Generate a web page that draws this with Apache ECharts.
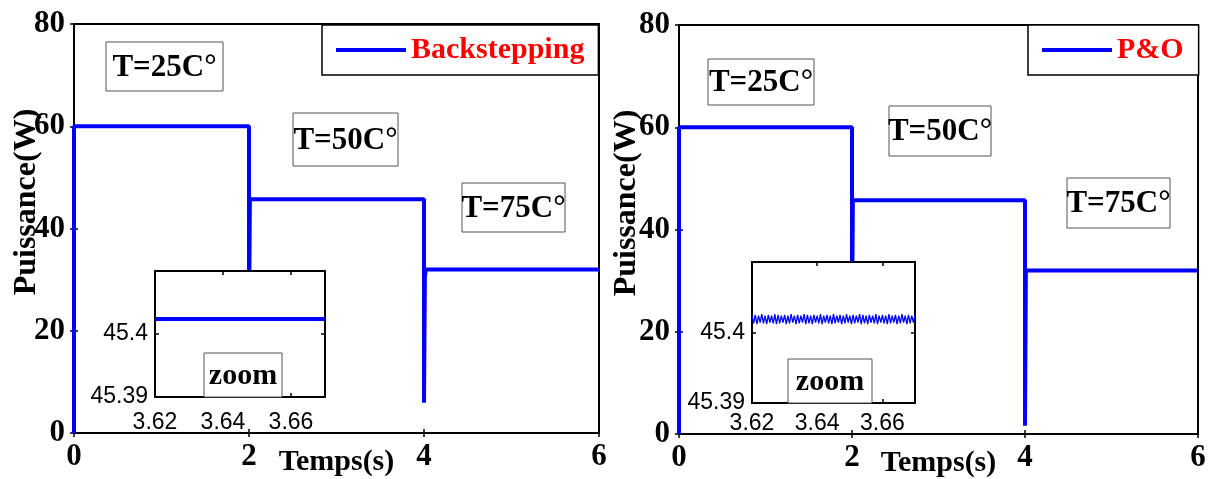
<!DOCTYPE html>
<html>
<head>
<meta charset="utf-8">
<script src="https://cdn.jsdelivr.net/npm/echarts@6/dist/echarts.min.js"></script>
<style>
  html, body { margin: 0; padding: 0; background: #fff; }
  #chart { width: 1217px; height: 479px; }
</style>
</head>
<body>
<div id="chart"></div>
<script>
// Power step response of the PV system under temperature steps (25, 50, 75 °C)
const seriesNames = ['Backstepping', 'P&O'];

// Backstepping controller: time (s) and power (W)
const backTime  = [0, 0,  2,  2,  2.01, 4,    4,   4.01, 4.02, 6];
const backPower = [0, 60, 60, 20, 45.7, 45.7, 5.9, 30.5, 32,   32];

// P&O controller: time (s) and power (W)
const poTime  = [0, 0,  2,  2,  2.01, 4,    4,   4.01, 6];
const poPower = [0, 60, 60, 20, 45.7, 45.7, 1.6, 32,   32];

// Zoom window on the 50 °C plateau
const zoomTimeRange  = [3.62, 3.67];
const zoomPowerRange = [45.39, 45.41];
const backZoomTime  = [3.62, 3.67];
const backZoomPower = [45.4024, 45.4024];
// P&O samples in the zoom window (sampled every 0.5 ms from 3.62 s)
const poZoomStart = 3.62;
const poZoomStep = 0.0005;
const poZoomPower = [
  45.4024, 45.4013, 45.4025, 45.4012, 45.4024, 45.4014, 45.4026, 45.4013, 45.4024, 45.4012,
  45.4025, 45.4014, 45.4024, 45.4013, 45.4026, 45.4012, 45.4025, 45.4013, 45.4024, 45.4014,
  45.4025, 45.4012, 45.4024, 45.4013, 45.4026, 45.4014, 45.4024, 45.4012, 45.4025, 45.4013,
  45.4024, 45.4014, 45.4026, 45.4012, 45.4025, 45.4013, 45.4024, 45.4012, 45.4025, 45.4014,
  45.4024, 45.4013, 45.4026, 45.4012, 45.4024, 45.4014, 45.4025, 45.4013, 45.4024, 45.4012,
  45.4026, 45.4013, 45.4024, 45.4014, 45.4025, 45.4012, 45.4024, 45.4013, 45.4026, 45.4014,
  45.4024, 45.4012, 45.4025, 45.4013, 45.4024, 45.4014, 45.4026, 45.4012, 45.4025, 45.4013,
  45.4024, 45.4012, 45.4025, 45.4014, 45.4024, 45.4013, 45.4026, 45.4012, 45.4024, 45.4014,
  45.4025, 45.4013, 45.4024, 45.4012, 45.4026, 45.4013, 45.4024, 45.4014, 45.4025, 45.4012,
  45.4024, 45.4013, 45.4026, 45.4014, 45.4024, 45.4012, 45.4025, 45.4013, 45.4024, 45.4014,
  45.4025
];

// Axis settings and annotation texts
const timeAxis  = { min: 0, max: 6, interval: 2 };
const powerAxis = { min: 0, max: 80, interval: 20 };
const xTitle = 'Temps(s)';
const yTitle = 'Puissance(W)';
const tempTags = ['T=25C°', 'T=50C°', 'T=75C°'];
const zoomTag = 'zoom';

const pairs = (xs, ys) => xs.map((x, i) => [x, ys[i]]);
const poZoomData = poZoomPower.map((v, i) => [poZoomStart + i * poZoomStep, v]);

const SERIF = '"Liberation Serif", "Times New Roman", serif';
const SANS = '"Liberation Sans", Arial, sans-serif';
const BLUE = '#0000ff';

const mainGrids = [
  { left: 74, top: 24, width: 525, height: 409 },
  { left: 679, top: 25, width: 519, height: 409 }
];
const insetGrids = [
  { left: 155, top: 271, width: 170, height: 126 },
  { left: 752, top: 262, width: 163, height: 141 }
];

const grid = [];
mainGrids.forEach(g => grid.push(Object.assign({
  show: true, backgroundColor: '#fff', borderColor: '#000', borderWidth: 2, z: 0,
  containLabel: false, outerBoundsMode: 'none'
}, g)));
insetGrids.forEach(g => grid.push(Object.assign({
  show: true, backgroundColor: '#fff', borderColor: '#000', borderWidth: 2, z: 5,
  containLabel: false, outerBoundsMode: 'none'
}, g)));

const xAxis = [];
const yAxis = [];
const tickIn = { show: true, inside: true, length: 4, lineStyle: { color: '#000', width: 1.5 } };

// Main axes (bottom/top and left/right for each panel)
[0, 1].forEach(gi => {
  xAxis.push({
    type: 'value', gridIndex: gi, position: 'bottom', min: timeAxis.min, max: timeAxis.max, interval: timeAxis.interval,
    axisLine: { show: false }, splitLine: { show: false }, axisTick: tickIn,
    axisLabel: { margin: 8, color: '#000', fontFamily: SERIF, fontWeight: 'bold', fontSize: 31 },
    name: xTitle, nameLocation: 'middle', nameGap: 14, nameMoveOverlap: false,
    nameTextStyle: { color: '#000', fontFamily: SERIF, fontWeight: 'bold', fontSize: 30 }
  });
  xAxis.push({
    type: 'value', gridIndex: gi, position: 'top', min: timeAxis.min, max: timeAxis.max, interval: timeAxis.interval,
    axisLine: { show: false }, splitLine: { show: false }, axisTick: tickIn, axisLabel: { show: false }
  });
  yAxis.push({
    type: 'value', gridIndex: gi, position: 'left', min: powerAxis.min, max: powerAxis.max, interval: powerAxis.interval,
    axisLine: { show: false }, splitLine: { show: false }, axisTick: tickIn,
    axisLabel: { margin: 9, color: '#000', fontFamily: SERIF, fontWeight: 'bold', fontSize: 31 }
  });
  yAxis.push({
    type: 'value', gridIndex: gi, position: 'right', min: powerAxis.min, max: powerAxis.max, interval: powerAxis.interval,
    axisLine: { show: false }, splitLine: { show: false }, axisTick: tickIn, axisLabel: { show: false }
  });
});

// Zoom (inset) axes
const insetLabelMargin = [[14, 7], [9, 7]];
[2, 3].forEach((gi, k) => {
  xAxis.push({
    type: 'value', gridIndex: gi, position: 'bottom', min: zoomTimeRange[0], max: zoomTimeRange[1], interval: 0.02, z: 6,
    axisLine: { show: false }, splitLine: { show: false }, axisTick: tickIn,
    axisLabel: { showMaxLabel: false, margin: insetLabelMargin[k][0], color: '#000', fontFamily: SANS, fontSize: 23 }
  });
  xAxis.push({
    type: 'value', gridIndex: gi, position: 'top', min: zoomTimeRange[0], max: zoomTimeRange[1], interval: 0.02, z: 6,
    axisLine: { show: false }, splitLine: { show: false }, axisTick: tickIn, axisLabel: { show: false }
  });
  yAxis.push({
    type: 'value', gridIndex: gi, position: 'left', min: zoomPowerRange[0], max: zoomPowerRange[1], interval: 0.01, z: 6,
    axisLine: { show: false }, splitLine: { show: false }, axisTick: tickIn,
    axisLabel: { showMaxLabel: false, margin: insetLabelMargin[k][1], color: '#000', fontFamily: SANS, fontSize: 23 }
  });
  yAxis.push({
    type: 'value', gridIndex: gi, position: 'right', min: zoomPowerRange[0], max: zoomPowerRange[1], interval: 0.01, z: 6,
    axisLine: { show: false }, splitLine: { show: false }, axisTick: tickIn, axisLabel: { show: false }
  });
});

const lineBase = { type: 'line', showSymbol: false, symbol: 'none', animation: false, color: BLUE };
const series = [
  Object.assign({}, lineBase, { name: seriesNames[0], xAxisIndex: 0, yAxisIndex: 0, data: pairs(backTime, backPower), lineStyle: { width: 4, color: BLUE }, clip: false, z: 2 }),
  Object.assign({}, lineBase, { name: seriesNames[1], xAxisIndex: 2, yAxisIndex: 2, data: pairs(poTime, poPower), lineStyle: { width: 4, color: BLUE }, clip: false, z: 2 }),
  Object.assign({}, lineBase, { name: seriesNames[0] + ' zoom', xAxisIndex: 4, yAxisIndex: 4, data: pairs(backZoomTime, backZoomPower), lineStyle: { width: 4, color: BLUE }, z: 7 }),
  Object.assign({}, lineBase, { name: seriesNames[1] + ' zoom', xAxisIndex: 6, yAxisIndex: 6, data: poZoomData, lineStyle: { width: 1.3, color: BLUE }, z: 7 })
];

const legendBase = {
  orient: 'horizontal', icon: 'rect', itemWidth: 70, itemHeight: 4,
  backgroundColor: '#fff', borderColor: '#000', borderWidth: 1.5,
  textStyle: { color: '#ff0000', fontFamily: SERIF, fontWeight: 'bold', fontSize: 30 },
  selectedMode: false, z: 8
};
const legend = [
  Object.assign({}, legendBase, { data: [seriesNames[0]], left: 322, top: 25, padding: [10, 14, 10, 14] }),
  Object.assign({}, legendBase, { data: [seriesNames[1]], left: 1028, top: 25, padding: [10, 15, 10, 14] })
];

// Boxed annotations
function tagBox(x, y, w, h, text, size) {
  return [
    { type: 'rect', z: 10, shape: { x: x, y: y, width: w, height: h }, style: { fill: '#fff', stroke: '#555', lineWidth: 1 } },
    { type: 'text', z: 11, x: x + w / 2, y: y + h / 2 + 1,
      style: { text: text, fill: '#000', font: 'bold ' + size + 'px ' + SERIF, align: 'center', verticalAlign: 'middle' } }
  ];
}
const graphic = [].concat(
  tagBox(106, 42, 117, 49, tempTags[0], 31),
  tagBox(293, 113, 105, 53, tempTags[1], 31),
  tagBox(462, 183, 103, 49, tempTags[2], 31),
  tagBox(708, 59, 106, 46, tempTags[0], 31),
  tagBox(889, 106, 102, 50, tempTags[1], 31),
  tagBox(1067, 178, 103, 50, tempTags[2], 31),
  tagBox(204, 353, 78, 44, zoomTag, 30),
  tagBox(788, 359, 84, 44, zoomTag, 30),
  [
    { type: 'text', z: 11, x: 27, y: 202, rotation: Math.PI / 2,
      style: { text: yTitle, fill: '#000', font: 'bold 32px ' + SERIF, align: 'center', verticalAlign: 'middle' } },
    { type: 'text', z: 11, x: 627, y: 203, rotation: Math.PI / 2,
      style: { text: yTitle, fill: '#000', font: 'bold 32px ' + SERIF, align: 'center', verticalAlign: 'middle' } }
  ]
);

const chart = echarts.init(document.getElementById('chart'), null, { renderer: 'canvas' });
chart.setOption({
  backgroundColor: '#fff',
  animation: false,
  grid: grid,
  xAxis: xAxis,
  yAxis: yAxis,
  legend: legend,
  series: series,
  graphic: graphic
});
</script>
</body>
</html>
